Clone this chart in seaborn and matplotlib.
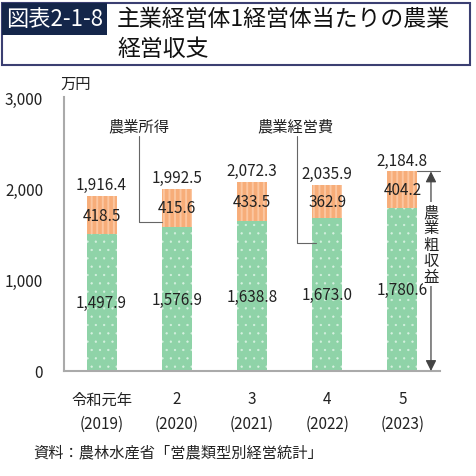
import matplotlib
matplotlib.use("Agg")
import matplotlib.pyplot as plt
from matplotlib.patches import Rectangle
import seaborn as sns

years = ["令和元年\n(2019)", "2\n(2020)", "3\n(2021)", "4\n(2022)", "5\n(2023)"]
keieihi = [1497.9, 1576.9, 1638.8, 1673.0, 1780.6]   # 農業経営費
shotoku = [418.5, 415.6, 433.5, 362.9, 404.2]       # 農業所得
sosyueki = [1916.4, 1992.5, 2072.3, 2035.9, 2184.8]  # 農業粗収益
yticks = [0, 1000, 2000, 3000]

green = "#8fd3a8"
orange = "#f7ad79"
gray = "#aaaaaa"
navy = "#14264a"

sns.set_style("white")
plt.rcParams['font.family'] = ['Noto Sans CJK JP', 'DejaVu Sans']

fig = plt.figure(figsize=(4.77, 4.77), dpi=100)
ax = fig.add_axes([64 / 477, 1 - 372 / 477, 376 / 477, 274 / 477])

# 合計(粗収益)をオレンジで描き、その上に経営費を緑で重ねる
with plt.rc_context({'hatch.linewidth': 1.4}):
    sns.barplot(x=years, y=sosyueki, color=orange, saturation=1, width=0.4,
                hatch="|||", edgecolor="#fbc6a0", linewidth=0, ax=ax)
with plt.rc_context({'hatch.linewidth': 0.4}):
    sns.barplot(x=years, y=keieihi, color=green, saturation=1, width=0.4,
                hatch="..", edgecolor="#d6f1e0", linewidth=0, ax=ax)

# 数値ラベル
ax.bar_label(ax.containers[0], labels=[f"{v:,.1f}" for v in sosyueki],
             padding=2, fontsize=11, color="#222222")
ax.bar_label(ax.containers[1], labels=[f"{v:,.1f}" for v in keieihi],
             label_type="center", fontsize=11, color="#222222")
for i, (k, s) in enumerate(zip(keieihi, shotoku)):
    ax.text(i, k + s / 2, f"{s:,.1f}", ha="center", va="center",
            fontsize=11, color="#222222")

ax.set_xlim(-0.5, 4.5)
ax.set_ylim(0, 3000)
ax.set_yticks(yticks)
ax.set_yticklabels([f"{v:,}" for v in yticks])
ax.set_xticks(range(len(years)))
ax.set_xticklabels(years, linespacing=1.6)
ax.tick_params(axis="y", direction="in", length=4, color=gray, pad=15,
               labelsize=11, labelcolor="#222222")
ax.tick_params(axis="x", length=0, pad=14, labelsize=11, labelcolor="#222222")
for side in ["top", "right"]:
    ax.spines[side].set_visible(False)
for side in ["left", "bottom"]:
    ax.spines[side].set_color(gray)
    ax.spines[side].set_linewidth(1.5)
ax.set_xlabel("")
ax.set_ylabel("")

ax.text(0.03, 3150, "万円", ha="center", va="center", fontsize=11,
        color="#222222", transform=ax.get_yaxis_transform(), clip_on=False)

# 引き出し線
ax.text(0.5, 2680, "農業所得", ha="center", va="center", fontsize=11, color="#222222")
ax.plot([0.5, 0.5, 0.8], [2575, 1632, 1632], color="#666666", lw=0.8)
ax.text(2.58, 2680, "農業経営費", ha="center", va="center", fontsize=11, color="#222222")
ax.plot([2.6, 2.6, 2.85], [2575, 1402, 1402], color="#666666", lw=0.8)

# 農業粗収益の矢印
top = sosyueki[-1]
ax.plot([4.2, 4.5], [top, top], color="#666666", lw=0.8, clip_on=False)
ax.annotate("", xy=(4.38, 0), xytext=(4.38, top),
            arrowprops=dict(arrowstyle="<|-|>", color="#444444", lw=0.9,
                            mutation_scale=16, shrinkA=0, shrinkB=0),
            annotation_clip=False)
ax.text(4.38, 1390, "農\n業\n粗\n収\n益", ha="center", va="center",
        fontsize=11, linespacing=0.95, color="#222222",
        bbox=dict(facecolor="white", edgecolor="none", pad=0.5))

# タイトル枠
fig.patches.append(Rectangle((2 / 477, 1 - 66 / 477), 468 / 477, 62 / 477,
                             fill=False, edgecolor="#3b3f72", lw=1.5,
                             transform=fig.transFigure))
fig.patches.append(Rectangle((2 / 477, 1 - 36 / 477), 105 / 477, 32 / 477,
                             facecolor=navy, edgecolor="none",
                             transform=fig.transFigure))
fig.text(55 / 477, 1 - 20 / 477, "図表2-1-8", ha="center", va="center",
         fontsize=16, color="white")
fig.text(117 / 477, 1 - 20 / 477, "主業経営体1経営体当たりの農業", ha="left",
         va="center", fontsize=16.5, color="#111111")
fig.text(117 / 477, 1 - 50 / 477, "経営収支", ha="left", va="center",
         fontsize=16.5, color="#111111")

fig.text(33 / 477, 1 - 453 / 477, "資料：農林水産省「営農類型別経営統計」",
         ha="left", va="center", fontsize=11, color="#222222")

fig.savefig("out.png", dpi=100)
